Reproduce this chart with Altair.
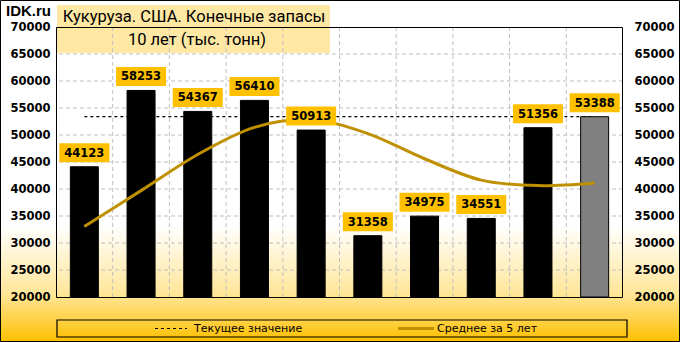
import altair as alt
import pandas as pd

# ---- data -------------------------------------------------------------
years = ["2015", "2016", "2017", "2018", "2019", "2020", "2021", "2022", "2023", "2024"]
stocks = [44123, 58253, 54367, 56410, 50913, 31358, 34975, 34551, 51356, 53388]
avg5 = [33070, 39700, 46400, 51420, 52810, 50260, 45600, 41640, 40630, 41130]
bar_kind = ["hist"] * 9 + ["cur"]
current_value = 53388
y_min, y_max = 20000, 70000
y_ticks = [20000, 25000, 30000, 35000, 40000, 45000, 50000, 55000, 60000, 65000, 70000]
grid_values = [25000, 30000, 35000, 40000, 45000, 50000, 55000, 60000, 65000]
site_label = "IDK.ru"
title_line1 = "Кукуруза. США. Конечные запасы"
title_line2 = "10 лет (тыс. тонн)"
legend_labels = ["Текущее значение", "Среднее за 5 лет"]

W, H = 567, 270
FONT = "DejaVu Sans"
GOLD = "#BF9000"

df = pd.DataFrame({"year": years, "stock": stocks, "avg": avg5, "kind": bar_kind})
cur_df = pd.DataFrame({"year": [years[0], years[-1]], "stock": [current_value, current_value]})
vgrid_df = pd.DataFrame({"year": years[1:]})
hgrid_df = pd.DataFrame({"stock": grid_values})
one = pd.DataFrame({"a": [0]})

xscale = alt.Scale(domain=years, paddingInner=0, paddingOuter=0)
yscale = alt.Scale(domain=[y_min, y_max], nice=False, zero=False)

x_axis = alt.Axis(title=None, labelFont=FONT, labelFontWeight="bold", labelFontSize=10,
                  labelColor="black", ticks=False, domain=False, grid=False,
                  labelPadding=7, labelAngle=0, zindex=2)
yl_axis = alt.Axis(title=None, values=y_ticks, format="d", labelFont=FONT,
                   labelFontWeight="bold", labelFontSize=11.5, labelColor="black",
                   ticks=False, domain=False, grid=False, labelPadding=6, orient="left", zindex=2)
yr_axis = alt.Axis(title=None, values=y_ticks, format="d", labelFont=FONT,
                   labelFontWeight="bold", labelFontSize=11.5, labelColor="black",
                   ticks=False, domain=False, grid=False, labelPadding=11, orient="right", zindex=2)

X = lambda **kw: alt.X("year:N", scale=xscale, **kw)

gradient = alt.LinearGradient(
    gradient="linear", x1=0, y1=0, x2=0, y2=1,
    stops=[alt.GradientStop(color="#FFFFFF", offset=0),
           alt.GradientStop(color="#FFFFFF", offset=0.66),
           alt.GradientStop(color="#FFE699", offset=0.86),
           alt.GradientStop(color="#FFC000", offset=1)])

bg = alt.Chart(one).mark_rect(fill=gradient, stroke="black", strokeWidth=1).encode(
    x=alt.value(-55.5), x2=alt.value(623.5), y=alt.value(-26.5), y2=alt.value(314.5))

title_box = alt.Chart(one).mark_rect(fill="#FFE699", opacity=0.9).encode(
    x=alt.value(1), x2=alt.value(274), y=alt.value(-22), y2=alt.value(26))

hgrid = alt.Chart(hgrid_df).mark_rule(color="#BFBFBF", strokeDash=[4, 3], strokeWidth=1).encode(
    y=alt.Y("stock:Q", scale=yscale, axis=yr_axis))

vgrid = alt.Chart(vgrid_df).mark_rule(color="#BFBFBF", strokeDash=[4, 3], strokeWidth=1).encode(
    x=X(bandPosition=0, axis=None), y=alt.value(0), y2=alt.value(H))

cur_line = alt.Chart(cur_df).mark_line(color="black", strokeDash=[3, 3], strokeWidth=1.3).encode(
    x=X(axis=None), y=alt.Y("stock:Q", scale=yscale, axis=None))

bars = alt.Chart(df).mark_bar(size=28, stroke="black", strokeWidth=1).encode(
    x=X(axis=x_axis),
    y=alt.Y("stock:Q", scale=yscale, axis=yl_axis),
    y2=alt.datum(y_min),
    color=alt.Color("kind:N", scale=alt.Scale(domain=["hist", "cur"], range=["#000000", "#808080"]), legend=None))

avg_line = alt.Chart(df).mark_line(color=GOLD, strokeWidth=3, interpolate="cardinal").encode(
    x=X(axis=None), y=alt.Y("avg:Q", scale=yscale, axis=None))

box_shape = "M-1,-0.38L1,-0.38L1,0.38L-1,0.38Z"
label_box = alt.Chart(df).mark_point(shape=box_shape, size=2500, filled=True, opacity=1,
                                     color="#FFC000", yOffset=-14).encode(
    x=X(axis=None), y=alt.Y("stock:Q", scale=yscale, axis=None))

label_text = alt.Chart(df).mark_text(font=FONT, fontWeight="bold", fontSize=11.5, color="black",
                                     baseline="middle", yOffset=-13).encode(
    x=X(axis=None), y=alt.Y("stock:Q", scale=yscale, axis=None), text=alt.Text("stock:Q", format="d"))

border = alt.Chart(one).mark_rect(fill=None, stroke="black", strokeWidth=1).encode(
    x=alt.value(0.5), x2=alt.value(W - 0.5), y=alt.value(0.5), y2=alt.value(H + 0.5))

site = alt.Chart(one).mark_text(font="Liberation Sans", fontWeight="bold", fontSize=15,
                                align="left", baseline="middle", color="black").encode(
    x=alt.value(-50), y=alt.value(-16), text=alt.value(site_label))

t1 = alt.Chart(one).mark_text(font="Roboto", fontSize=16.5, align="center", baseline="middle",
                              color="black").encode(
    x=alt.value(138), y=alt.value(-10), text=alt.value(title_line1))
t2 = alt.Chart(one).mark_text(font="Roboto", fontSize=16.5, align="center", baseline="middle",
                              color="black").encode(
    x=alt.value(141), y=alt.value(13), text=alt.value(title_line2))

leg_box = alt.Chart(one).mark_rect(fill=None, stroke="black", strokeWidth=1.2).encode(
    x=alt.value(1), x2=alt.value(571), y=alt.value(293), y2=alt.value(310))
leg_dash = alt.Chart(one).mark_rule(color="black", strokeDash=[3, 3], strokeWidth=1.2).encode(
    x=alt.value(99), x2=alt.value(131), y=alt.value(301.5))
leg_gold = alt.Chart(one).mark_rule(color=GOLD, strokeWidth=3).encode(
    x=alt.value(342), x2=alt.value(378), y=alt.value(301.5))
leg_t1 = alt.Chart(one).mark_text(font=FONT, fontSize=11, align="left", baseline="middle",
                                  color="black").encode(
    x=alt.value(138), y=alt.value(301.5), text=alt.value(legend_labels[0]))
leg_t2 = alt.Chart(one).mark_text(font=FONT, fontSize=11, align="left", baseline="middle",
                                  color="black").encode(
    x=alt.value(381), y=alt.value(301.5), text=alt.value(legend_labels[1]))

chart = alt.layer(
    bg, title_box, hgrid, vgrid, cur_line, bars, avg_line, label_box, label_text, border,
    site, t1, t2, leg_box, leg_dash, leg_gold, leg_t1, leg_t2
).resolve_axis(y="independent").properties(
    width=W, height=H,
    padding={"left": 56, "top": 27, "right": 57, "bottom": 45},
    autosize=alt.AutoSizeParams(type="none"),
    background="white",
).configure_view(stroke=None)

chart.save("out.html", embed_options={"renderer": "svg", "actions": False})
